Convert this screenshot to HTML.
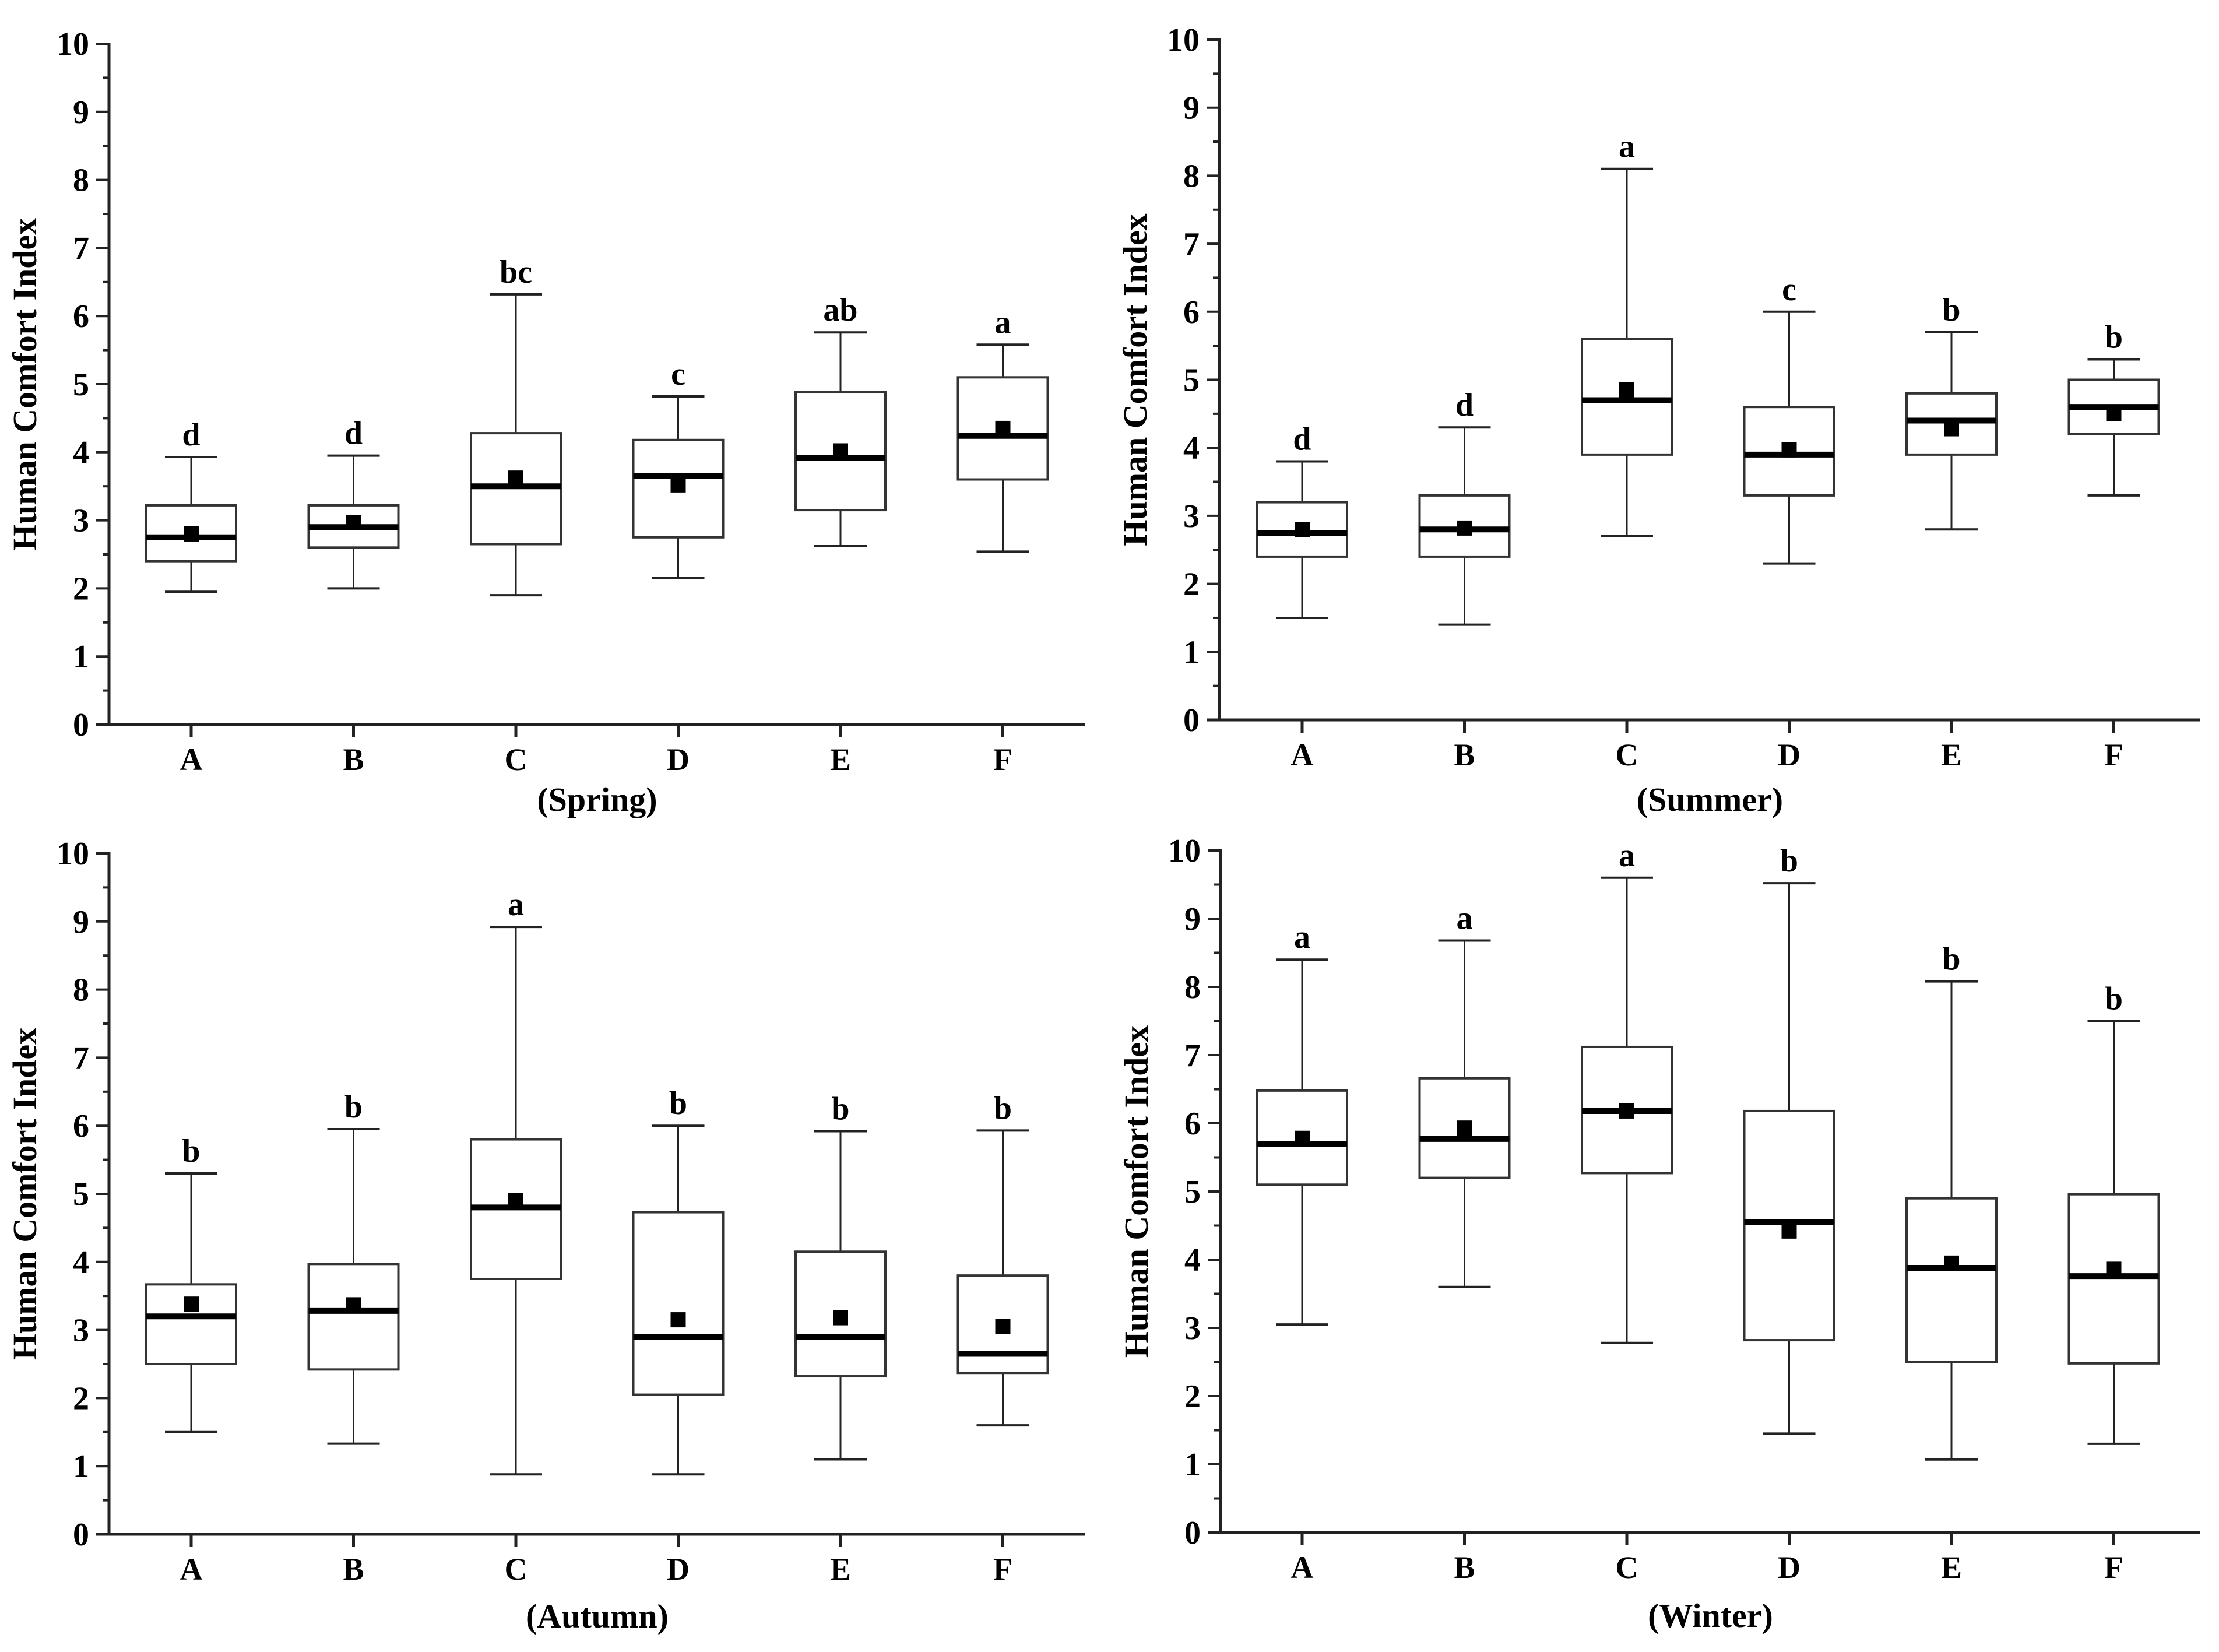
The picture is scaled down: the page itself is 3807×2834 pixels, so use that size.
<!DOCTYPE html>
<html><head><meta charset="utf-8"><style>
html,body{margin:0;padding:0;background:#fff}
svg{display:block}
text{font-family:"Liberation Serif","Times New Roman",serif;font-weight:bold;fill:#000}
</style></head>
<body>
<svg id="chart" width="3807" height="2834" viewBox="0 0 3807 2834" xmlns="http://www.w3.org/2000/svg"></svg>
<script>
const categories = ["A","B","C","D","E","F"];
const seasons = ["Spring","Summer","Autumn","Winter"];
// [min, q1, median, q3, max] per category
const springStats = [[1.95,2.4,2.75,3.22,3.93],[2.0,2.6,2.9,3.22,3.95],[1.9,2.65,3.5,4.28,6.32],[2.15,2.75,3.65,4.18,4.82],[2.62,3.15,3.92,4.88,5.76],[2.54,3.6,4.24,5.1,5.58]];
const summerStats = [[1.5,2.4,2.75,3.2,3.8],[1.4,2.4,2.8,3.3,4.3],[2.7,3.9,4.7,5.6,8.1],[2.3,3.3,3.9,4.6,6.0],[2.8,3.9,4.4,4.8,5.7],[3.3,4.2,4.6,5.0,5.3]];
const autumnStats = [[1.5,2.5,3.2,3.67,5.3],[1.33,2.42,3.28,3.97,5.95],[0.88,3.75,4.8,5.8,8.92],[0.88,2.05,2.9,4.73,6.0],[1.1,2.32,2.9,4.15,5.92],[1.6,2.37,2.65,3.8,5.93]];
const winterStats = [[3.05,5.1,5.7,6.48,8.4],[3.6,5.2,5.77,6.66,8.68],[2.78,5.27,6.18,7.12,9.6],[1.45,2.82,4.55,6.18,9.52],[1.07,2.5,3.88,4.9,8.08],[1.3,2.48,3.76,4.96,7.5]];
const springMeans = [2.8,2.97,3.62,3.52,4.02,4.35];
const summerMeans = [2.8,2.82,4.85,3.97,4.28,4.5];
const autumnMeans = [3.38,3.37,4.9,3.15,3.18,3.05];
const winterMeans = [5.78,5.93,6.18,4.42,3.95,3.86];
const springLetters = ["d","d","bc","c","ab","a"];
const summerLetters = ["d","d","a","c","b","b"];
const autumnLetters = ["b","b","a","b","b","b"];
const winterLetters = ["a","a","a","b","b","b"];
const yTicks = [0,1,2,3,4,5,6,7,8,9,10];

const statsAll=[springStats,summerStats,autumnStats,winterStats];
const meansAll=[springMeans,summerMeans,autumnMeans,winterMeans];
const lettersAll=[springLetters,summerLetters,autumnLetters,winterLetters];
const panels=[{ax:187,y0:1243,y10:75,end:1862,x0:328,tt:148},{ax:2092,y0:1235,y10:68,end:3775,x0:2234,tt:156},
{ax:187,y0:2632,y10:1464,end:1862,x0:328,tt:160},{ax:2094,y0:2629,y10:1459,end:3775,x0:2234,tt:162}];
const step=278.5, hw=77, cw=45;
const svg=document.getElementById('chart');
const NS='http://www.w3.org/2000/svg';
function el(tag,attrs,parent){const e=document.createElementNS(NS,tag);for(const k in attrs)e.setAttribute(k,attrs[k]);(parent||svg).appendChild(e);return e;}

panels.forEach((p,pi)=>{
  const g=el('g',{});
  
  
  const ys=v=>p.y0-(p.y0-p.y10)*v/10;
  const xs=i=>p.x0+i*step;
  const ya=el('line',{x1:p.ax,y1:p.y10-2,x2:p.ax,y2:p.y0,stroke:'#222','stroke-width':5},g);
  
  
  const xa=el('line',{x1:p.ax-22,y1:p.y0,x2:p.end,y2:p.y0,stroke:'#222','stroke-width':5},g);
  
  
  yTicks.forEach(t=>{
    el('line',{x1:p.ax-22,y1:ys(t),x2:p.ax,y2:ys(t),stroke:'#222','stroke-width':4},g);
    if(t<10) el('line',{x1:p.ax-11,y1:ys(t+0.5),x2:p.ax,y2:ys(t+0.5),stroke:'#222','stroke-width':4},g);
    const tl=el('text',{x:p.ax-34,y:ys(t)+19,'text-anchor':'end','font-size':56},g);
    tl.textContent=t;
    
    
  });
  const yt=el('text',{x:0,y:0,'text-anchor':'middle','font-size':58,transform:`translate(${p.ax-125},${(p.y0+p.y10)/2}) rotate(-90)`},g);
  yt.textContent='Human Comfort Index';
  
  
  const st=el('text',{x:(p.ax+p.end)/2,y:p.y0+p.tt,'text-anchor':'middle','font-size':58},g);
  st.textContent='('+seasons[pi]+')';
  
  
  categories.forEach((c,i)=>{
    const x=xs(i), s=statsAll[pi][i];
    el('line',{x1:x,y1:p.y0,x2:x,y2:p.y0+22,stroke:'#222','stroke-width':5},g);
    const cl=el('text',{x:x,y:p.y0+78,'text-anchor':'middle','font-size':54},g);
    cl.textContent=c;
    
    
    const b=el('g',{},g);
    
    
    el('line',{x1:x,y1:ys(s[0]),x2:x,y2:ys(s[1]),stroke:'#222','stroke-width':3},b);
    el('line',{x1:x,y1:ys(s[3]),x2:x,y2:ys(s[4]),stroke:'#222','stroke-width':3},b);
    el('line',{x1:x-cw,y1:ys(s[0]),x2:x+cw,y2:ys(s[0]),stroke:'#222','stroke-width':4},b);
    el('line',{x1:x-cw,y1:ys(s[4]),x2:x+cw,y2:ys(s[4]),stroke:'#222','stroke-width':4},b);
    el('rect',{x:x-hw,y:ys(s[3]),width:2*hw,height:ys(s[1])-ys(s[3]),fill:'#fff',stroke:'#333','stroke-width':4},b);
    el('rect',{x:x-13,y:ys(meansAll[pi][i])-13,width:26,height:26,fill:'#000'},b);
    el('line',{x1:x-hw,y1:ys(s[2]),x2:x+hw,y2:ys(s[2]),stroke:'#000','stroke-width':10},b);
    const lt=el('text',{x:x,y:ys(s[4])-20,'text-anchor':'middle','font-size':56},g);
    lt.textContent=lettersAll[pi][i];
    
    
  });
});
</script>
</body></html>
